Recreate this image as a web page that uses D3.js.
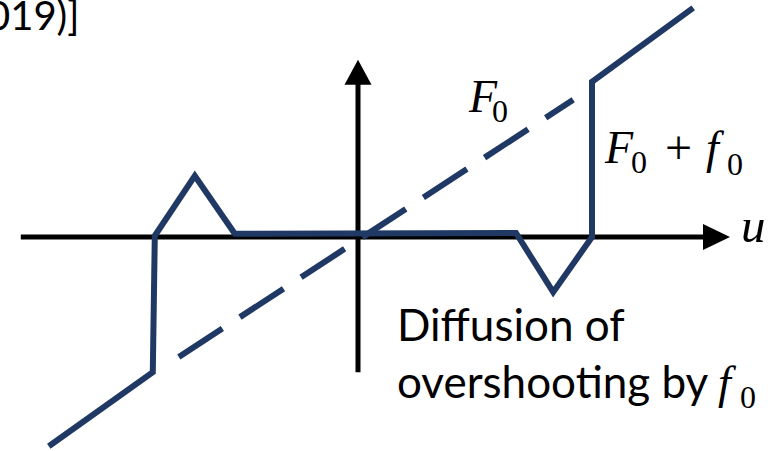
<!DOCTYPE html>
<html>
<head>
<meta charset="utf-8">
<script src="https://cdn.jsdelivr.net/npm/d3@7"></script>
<style>
body{margin:0;background:#fff;}
</style>
</head>
<body>
<svg id="chart"></svg>
<script>
// F0 + f0 curve (u, F)
var curveU = [-7.73,-5.13,-5.08,-4.08,-3.08,3.95,4.88,5.85,5.85,8.38];
var curveF = [-5.23,-3.38,0.03,1.53,0.08,0.1,-1.38,0,3.88,5.73];
// dashed F0 line
var baseU = [-4.48,5.38];
var baseF = [-3.0,3.43];
// axis extents
var axisU = [-8.43,9.3];
var axisF = [-3.38,4.43];

var w = 775, h = 451;
var blue = "#1f3864";

var svg = d3.select("svg#chart")
            .attr("width",w)
            .attr("height",h);

var xScale = d3.scaleLinear()
               .domain([-9,9])
               .range([-2,718]);
var yScale = d3.scaleLinear()
               .domain([-6,6])
               .range([477,-3]);

var line = d3.line()
             .x(function(d){return xScale(d[0]);})
             .y(function(d){return yScale(d[1]);});

// axes
var x0 = xScale(0), y0 = yScale(0);
var uTip = xScale(axisU[1]), fTip = yScale(axisF[1]);
var axes = svg.append("g").classed("axes",true);

axes.append("line")
    .attr("x1",xScale(axisU[0])).attr("y1",y0)
    .attr("x2",uTip-20).attr("y2",y0)
    .attr("stroke","#000").attr("stroke-width",5);
axes.append("path")
    .attr("d","M"+uTip+","+y0+"L"+(uTip-27)+","+(y0-13)+"L"+(uTip-27)+","+(y0+13)+"Z")
    .attr("fill","#000");

axes.append("line")
    .attr("x1",x0).attr("y1",yScale(axisF[0]))
    .attr("x2",x0).attr("y2",fTip+20)
    .attr("stroke","#000").attr("stroke-width",5);
axes.append("path")
    .attr("d","M"+x0+","+fTip+"L"+(x0-13.5)+","+(fTip+25)+"L"+(x0+13.5)+","+(fTip+25)+"Z")
    .attr("fill","#000");

// dashed F0
svg.append("path")
   .datum(d3.zip(baseU,baseF))
   .attr("d",line)
   .attr("fill","none")
   .attr("stroke",blue)
   .attr("stroke-width",6)
   .attr("stroke-dasharray","52,21");

// F0 + f0
svg.append("path")
   .datum(d3.zip(curveU,curveF))
   .attr("d",line)
   .attr("fill","none")
   .attr("stroke",blue)
   .attr("stroke-width",6)
   .attr("stroke-linejoin","miter");

// labels
var math = "'Liberation Serif', serif";
var sans = "Lato, sans-serif";

function mathLabel(parts){
  var t = svg.append("text").attr("font-family",math).attr("fill","#000");
  parts.forEach(function(p){
    t.append("tspan")
     .attr("x",p.x).attr("y",p.y)
     .attr("font-size",p.size)
     .attr("font-style",p.italic ? "italic" : "normal")
     .text(p.s);
  });
}

mathLabel([{s:"F",x:469,y:112,size:46,italic:true},
           {s:"0",x:492,y:122,size:32}]);
mathLabel([{s:"F",x:605,y:163,size:46,italic:true},
           {s:"0",x:631,y:173,size:32},
           {s:"+",x:665,y:164,size:48},
           {s:"f",x:706,y:163,size:46,italic:true},
           {s:"0",x:727,y:175,size:32}]);
mathLabel([{s:"u",x:741,y:242,size:49,italic:true}]);

svg.append("text")
   .attr("x",397).attr("y",341)
   .attr("font-family",sans).attr("font-size",44)
   .text("Diffusion of");
svg.append("text")
   .attr("x",397).attr("y",398)
   .attr("font-family",sans).attr("font-size",44)
   .text("overshooting by");
mathLabel([{s:"f",x:718,y:398,size:46,italic:true},
           {s:"0",x:740,y:408,size:32}]);

svg.append("text")
   .attr("x",-13).attr("y",30)
   .attr("font-family",sans).attr("font-size",40)
   .text("019)]");
</script>
</body>
</html>
